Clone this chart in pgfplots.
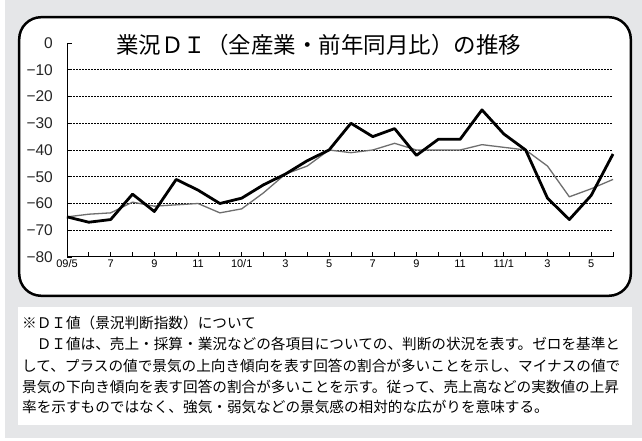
\documentclass[border=0pt]{standalone}
\usepackage{fontspec}
\usepackage{pgfplots}
\pgfplotsset{compat=1.18}
\setmainfont{Liberation Sans}
\newfontfamily\cjk{Noto Sans CJK JP}
\definecolor{bggray}{RGB}{229,230,232}
\definecolor{linegray}{RGB}{110,110,110}
\pgfplotstableread{
i black gray
0 -65 -65
1 -67 -64
2 -66 -63.5
3 -56.5 -59.5
4 -63 -61
5 -51 -60.5
6 -55 -60
7 -60 -63.5
8 -58 -62
9 -53 -56
10 -49 -49
11 -44 -46
12 -40 -40
13 -30 -41
14 -35 -40
15 -32 -37.5
16 -42 -40
17 -36 -40
18 -36 -40
19 -25 -38
20 -34 -39
21 -40 -40
22 -58 -46
23 -66 -57.5
24 -57 -54.5
25 -41.5 -51
}\ditable
\begin{document}
\begin{tikzpicture}[x=1pt,y=1pt]
\useasboundingbox (0,0) rectangle (642,441);
\fill[white] (0,0) rectangle (642,441);
\fill[bggray] (5,3) rectangle (642,441);
\draw[line width=2.5pt, rounded corners=22pt, fill=white] (19.2,145.2) rectangle (630.8,423.8);
\fill[white] (18,16) rectangle (632,134);
\node[anchor=base, inner sep=0pt] at (318.5,387.6) {\cjk\fontsize{22.5}{22.5}\selectfont 業況ＤＩ（全産業・前年同月比）の推移};
\begin{axis}[
  at={(67pt,184pt)}, anchor=south west,
  scale only axis, width=546pt, height=214pt,
  xmin=0, xmax=25, ymin=-80, ymax=0,
  axis x line*=bottom, axis y line*=left,
  axis line style={-, line width=1pt, black},
  tick align=inside,
  major tick length=5pt, minor tick length=5pt,
  tick style={black, line width=0.8pt},
  xtick={0,2,...,24},
  minor xtick={1,3,...,25},
  xticklabels={09/5,7,9,11,10/1,3,5,7,9,11,11/1,3,5},
  ytick={-80,-70,...,0},
  yticklabels={−80,−70,−60,−50,−40,−30,−20,−10,0},
  extra y ticks={-70,-60,...,-10},
  extra y tick labels={},
  extra y tick style={ymajorgrids=true, major tick length=0pt},
  major grid style={black, line width=0.7pt, dash pattern=on 2pt off 1pt},
  xticklabel style={font=\fontsize{11}{11}\selectfont, inner sep=0pt, yshift=-2.5pt},
  yticklabel style={font=\fontsize{15.5}{15.5}\selectfont, inner sep=0pt, anchor=east, xshift=-14pt, text=black!85},
  clip=false,
]
\addplot[linegray, line width=1.3pt, line join=round] table[x=i,y=gray] {\ditable};
\addplot[black, line width=2.8pt, line join=round] table[x=i,y=black] {\ditable};
\end{axis}
\begin{scope}[every node/.style={anchor=base west, inner sep=0pt, font=\cjk\fontsize{14.63}{14.63}\selectfont}]
\node at (22,112.5) {※ＤＩ値（景況判断指数）について};
\node at (22,91.5) {　ＤＩ値は、売上・採算・業況などの各項目についての、判断の状況を表す。ゼロを基準と};
\node at (22,69.5) {して、プラスの値で景気の上向き傾向を表す回答の割合が多いことを示し、マイナスの値で};
\node at (22,48.5) {景気の下向き傾向を表す回答の割合が多いことを示す。従って、売上高などの実数値の上昇};
\node at (22,28.5) {率を示すものではなく、強気・弱気などの景気感の相対的な広がりを意味する。};
\end{scope}
\end{tikzpicture}
\end{document}
